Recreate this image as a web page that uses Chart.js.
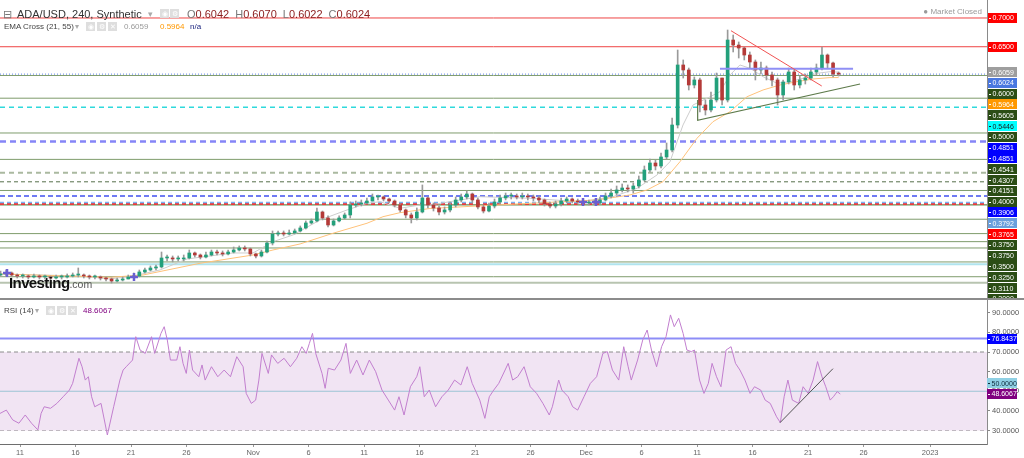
<!DOCTYPE html>
<html>
<head>
<meta charset="utf-8">
<script src="https://cdn.jsdelivr.net/npm/chart.js@4.4.0/dist/chart.umd.min.js"></script>
<style>
  html, body { margin: 0; padding: 0; background: #fff; }
  #wrap { position: relative; width: 1024px; height: 458px; overflow: hidden; font-family: "Liberation Sans", Arial, sans-serif; }
  canvas { position: absolute; left: 0; }
  #priceCanvas { top: 0; }
  #rsiCanvas { top: 300px; }
  #sep { position: absolute; left: 0; top: 298px; width: 1024px; height: 2px; background: #8c8c8c; }
  .t { position: absolute; white-space: nowrap; }
  .ic { position: absolute; width: 9px; height: 9px; background: #dedede; color: #fff; font-size: 7px; line-height: 9px; text-align: center; }
</style>
</head>
<body>
<div id="wrap">
  <canvas id="priceCanvas" width="1024" height="298"></canvas>
  <canvas id="rsiCanvas" width="1024" height="158"></canvas>
  <div id="sep"></div>

  <div class="t" style="left:3px;top:7px;font-size:11px;line-height:14px;color:#777">⊟</div>
  <div class="t" style="left:17px;top:7px;font-size:11px;line-height:14px;color:#333">ADA/USD, 240, Synthetic</div>
  <div class="t" style="left:148px;top:7px;font-size:9px;line-height:14px;color:#aaa">▾</div>
  <div class="ic" style="left:160px;top:9px">◉</div>
  <div class="ic" style="left:170px;top:9px">⚙</div>
  <div class="t" id="ohlc" style="left:187px;top:7px;font-size:11px;line-height:14px"></div>

  <div class="t" style="left:4px;top:22px;font-size:8px;line-height:10px;color:#444">EMA Cross (21, 55)</div>
  <div class="t" style="left:75px;top:22px;font-size:8px;line-height:10px;color:#aaa">▾</div>
  <div class="ic" style="left:86px;top:22px">◉</div>
  <div class="ic" style="left:97px;top:22px">⚙</div>
  <div class="ic" style="left:108px;top:22px">✕</div>
  <div class="t" id="emaFastTxt" style="left:124px;top:22px;font-size:8px;line-height:10px;color:#9a9a9a"></div>
  <div class="t" id="emaSlowTxt" style="left:160px;top:22px;font-size:8px;line-height:10px;color:#ff9800"></div>
  <div class="t" style="left:190px;top:22px;font-size:8px;line-height:10px;color:#1a237e">n/a</div>

  <div class="t" style="right:42px;top:7px;font-size:8px;line-height:10px;color:#9a9a9a">● Market Closed</div>

  <div class="t" style="left:4px;top:306px;font-size:8px;line-height:10px;color:#444">RSI (14)</div>
  <div class="t" style="left:35px;top:306px;font-size:8px;line-height:10px;color:#aaa">▾</div>
  <div class="ic" style="left:46px;top:306px">◉</div>
  <div class="ic" style="left:57px;top:306px">⚙</div>
  <div class="ic" style="left:68px;top:306px">✕</div>
  <div class="t" id="rsiTxt" style="left:83px;top:306px;font-size:8px;line-height:10px;color:#800080"></div>

  <div class="t" style="left:9px;top:275px;font-weight:bold;font-size:15px;line-height:16px;letter-spacing:-0.6px;color:#111">Investing<span style="font-weight:normal;font-size:10.5px;letter-spacing:0;color:#555">.com</span></div>
</div>

<script>
// 4h chart shown as 12h candles, days counted from 1 Oct
const candleStartDay = 8.25;
const candleStepDays = 0.5;
const firstOpen = 0.2530;

const closes = [
  0.2548,0.2565,0.2530,0.2513,0.2513,0.2496,0.2513,0.2496,0.2496,0.2478,
  0.2496,0.2496,0.2513,0.2530,0.2530,0.2513,0.2496,0.2496,0.2478,0.2461,
  0.2426,0.2443,0.2461,0.2496,0.2513,0.2583,0.2617,0.2652,0.2670,0.2826,
  0.2826,0.2809,0.2809,0.2826,0.2913,0.2878,0.2843,0.2878,0.2930,0.2913,
  0.2896,0.2930,0.2965,0.3000,0.2983,0.2896,0.2861,0.2930,0.3087,0.3243,
  0.3261,0.3243,0.3261,0.3296,0.3348,0.3435,0.3470,0.3626,0.3522,0.3400,
  0.3470,0.3522,0.3574,0.3748,0.3765,0.3783,0.3817,0.3887,0.3887,0.3852,
  0.3817,0.3748,0.3661,0.3574,0.3522,0.3626,0.3870,0.3748,0.3696,0.3626,
  0.3661,0.3748,0.3835,0.3887,0.3939,0.3835,0.3713,0.3643,0.3730,0.3800,
  0.3870,0.3904,0.3904,0.3887,0.3904,0.3887,0.3870,0.3835,0.3765,0.3730,
  0.3765,0.3817,0.3852,0.3817,0.3800,0.3783,0.3800,0.3783,0.3835,0.3904,
  0.3956,0.4009,0.4043,0.4026,0.4078,0.4183,0.4357,0.4478,0.4426,0.4583,
  0.4704,0.5139,0.6183,0.6096,0.5835,0.5922,0.5487,0.5400,0.5574,0.5956,
  0.5574,0.6617,0.6530,0.6478,0.6356,0.6235,0.6096,0.6130,0.6009,0.5922,
  0.5661,0.5887,0.6061,0.5835,0.5922,0.5956,0.6061,0.6130,0.6356,0.6217,
  0.6026,0.6024
];
const highs = [
  0.2600,0.2617,0.2583,0.2548,0.2548,0.2530,0.2548,0.2530,0.2530,0.2513,
  0.2530,0.2530,0.2548,0.2565,0.2652,0.2548,0.2530,0.2530,0.2513,0.2496,
  0.2478,0.2478,0.2496,0.2530,0.2565,0.2617,0.2652,0.2687,0.2704,0.2930,
  0.2878,0.2861,0.2861,0.2878,0.2965,0.2930,0.2896,0.2930,0.2965,0.2965,
  0.2948,0.2965,0.3017,0.3035,0.3035,0.3000,0.2913,0.2965,0.3122,0.3296,
  0.3296,0.3296,0.3313,0.3330,0.3383,0.3470,0.3504,0.3696,0.3643,0.3557,
  0.3504,0.3557,0.3609,0.3800,0.3817,0.3835,0.3870,0.3939,0.3922,0.3904,
  0.3870,0.3835,0.3765,0.3678,0.3609,0.3696,0.4096,0.3887,0.3783,0.3730,
  0.3713,0.3800,0.3887,0.3939,0.3991,0.3956,0.3870,0.3748,0.3783,0.3852,
  0.3922,0.3956,0.3956,0.3939,0.3956,0.3939,0.3922,0.3904,0.3852,0.3800,
  0.3817,0.3870,0.3887,0.3870,0.3852,0.3835,0.3835,0.3835,0.3887,0.3956,
  0.4026,0.4078,0.4113,0.4096,0.4130,0.4252,0.4426,0.4548,0.4530,0.4652,
  0.4826,0.5261,0.6443,0.6270,0.6130,0.5974,0.5956,0.5574,0.5713,0.6043,
  0.5956,0.6791,0.6704,0.6583,0.6496,0.6409,0.6270,0.6235,0.6165,0.6061,
  0.5956,0.5922,0.6130,0.6096,0.5991,0.6026,0.6130,0.6200,0.6496,0.6374,
  0.6235,0.6061
];
const lows = [
  0.2513,0.2513,0.2496,0.2478,0.2478,0.2461,0.2478,0.2461,0.2461,0.2443,
  0.2461,0.2461,0.2478,0.2496,0.2496,0.2478,0.2461,0.2461,0.2443,0.2426,
  0.2391,0.2409,0.2426,0.2461,0.2478,0.2496,0.2565,0.2600,0.2617,0.2652,
  0.2774,0.2757,0.2774,0.2774,0.2809,0.2843,0.2809,0.2826,0.2861,0.2878,
  0.2861,0.2878,0.2913,0.2948,0.2948,0.2861,0.2826,0.2843,0.2913,0.3052,
  0.3209,0.3209,0.3226,0.3243,0.3278,0.3330,0.3417,0.3452,0.3487,0.3365,
  0.3383,0.3452,0.3504,0.3522,0.3713,0.3730,0.3765,0.3817,0.3835,0.3817,
  0.3783,0.3713,0.3626,0.3522,0.3435,0.3487,0.3609,0.3696,0.3643,0.3574,
  0.3591,0.3626,0.3713,0.3800,0.3852,0.3783,0.3678,0.3609,0.3626,0.3696,
  0.3765,0.3835,0.3852,0.3852,0.3852,0.3835,0.3817,0.3783,0.3730,0.3696,
  0.3696,0.3730,0.3783,0.3783,0.3765,0.3748,0.3748,0.3748,0.3765,0.3817,
  0.3870,0.3922,0.3974,0.3974,0.3956,0.4043,0.4165,0.4322,0.4357,0.4391,
  0.4548,0.4670,0.5087,0.5956,0.5748,0.5783,0.5365,0.5313,0.5365,0.5539,
  0.5487,0.5539,0.6409,0.6304,0.6270,0.6130,0.5922,0.6026,0.5922,0.5817,
  0.5487,0.5574,0.5852,0.5748,0.5783,0.5852,0.5922,0.6009,0.6096,0.6130,
  0.5974,0.5991
];

// EMA Cross (21, 55)
const emaFastDays = [8.20,15.41,18.11,20.18,22.61,25.05,29.19,30.99,32.79,34.59,37.03,39.46,41.26,42.43,44.23,46.04,46.94,51.44,55.95,60.45,63.42,65.59,67.39,68.56,69.73,70.63,71.89,73.06,73.96,74.86,75.77,76.94,78.20,79.37,80.54,81.80,82.97,83.75];
const emaFastVals = [0.2548,0.2513,0.2461,0.2513,0.2617,0.2809,0.2913,0.2913,0.3109,0.3226,0.3487,0.3661,0.3777,0.3805,0.3690,0.3748,0.3748,0.3892,0.3864,0.3805,0.3892,0.4038,0.4270,0.4501,0.5139,0.5487,0.5603,0.5718,0.6009,0.6183,0.6125,0.5979,0.5864,0.5892,0.5951,0.6038,0.6066,0.6059];
const emaSlowDays = [8.20,18.11,21.08,26.22,30.99,32.79,35.23,38.20,41.26,42.70,44.23,46.94,52.97,58.92,61.98,64.95,66.49,67.93,69.46,70.99,72.43,73.96,75.50,76.94,78.47,80.00,81.44,82.97,83.75];
const emaSlowVals = [0.2548,0.2490,0.2530,0.2734,0.2878,0.2965,0.3070,0.3256,0.3430,0.3544,0.3614,0.3687,0.3748,0.3805,0.3835,0.3922,0.4009,0.4153,0.4501,0.4908,0.5196,0.5370,0.5631,0.5748,0.5835,0.5892,0.5939,0.5963,0.5964];

// horizontal levels drawn on the price panel
const levelPrices = [0.7000,0.6500,0.6000,0.5605,0.5446,0.5000,0.4851,0.4851,0.4541,0.4307,0.4151,0.4000,0.3906,0.3792,0.3765,0.3750,0.3750,0.3500,0.3250,0.3110,0.3000,0.2757,0.2717,0.2500,0.2396];
const levelKinds = ['red','red','green','green','cyan','green','blueDash','blueDash','green','greenDashLight','greenDash','green','blueDash2','lightBlueDash','redDash','green','green','green','green','green','green','green','lightCyan','green','greyThick'];

// trend drawings
const redTrendDays = [74.05, 82.23];
const redTrendVals = [0.6779, 0.5817];
const supportDays = [71.05, 71.05, 85.68];
const supportVals = [0.5574, 0.5221, 0.5852];
const rangeDays = [73.06, 85.05];
const rangeVals = [0.6116, 0.6116];
const markerDays = [8.83, 20.27, 60.72, 61.89];
const markerVals = [0.2565, 0.2496, 0.3800, 0.3800];

// RSI (14)
const rsiDays = [
  8.20,8.77,9.34,9.90,10.47,11.04,11.61,11.90,12.18,12.75,
  13.32,13.89,14.45,14.74,15.31,15.59,15.88,16.16,16.45,16.73,
  17.30,17.87,18.44,18.72,19.00,19.29,19.57,20.14,20.43,20.82,
  21.28,21.85,22.13,22.70,22.99,23.27,23.55,24.12,24.41,24.69,
  24.98,25.26,25.55,26.11,26.40,26.68,27.25,27.82,28.39,28.96,
  29.53,30.10,30.38,30.84,31.23,31.52,31.80,32.37,32.66,33.22,
  33.79,34.36,34.93,35.39,35.78,36.07,36.35,36.64,37.21,37.49,
  37.77,38.34,38.91,39.37,39.76,40.33,40.90,41.47,42.04,42.61,
  43.18,43.75,44.14,44.60,45.17,45.74,46.02,46.42,46.87,47.44,
  48.01,48.58,49.15,49.72,50.29,50.74,51.42,51.88,52.28,52.68,
  53.13,53.70,53.98,54.38,54.84,55.41,55.97,56.54,57.11,57.68,
  57.96,58.53,58.82,59.39,59.79,60.24,60.81,61.38,61.95,62.51,
  62.91,63.37,63.94,64.39,64.79,65.07,65.64,66.10,66.50,66.89,
  67.35,67.80,68.20,68.60,68.94,69.34,69.74,70.08,70.48,70.76,
  71.22,71.62,72.01,72.35,72.75,73.15,73.61,74.06,74.46,74.86,
  75.31,75.77,76.17,76.73,77.13,77.59,78.16,78.50,78.84,79.18,
  79.58,80.15,80.55,81.00,81.45,81.85,82.25,82.59,82.99,83.28,
  83.62,83.90
];
const rsiVals = [
  38.7,40.4,35.4,33.7,37.9,33.7,30.3,38.7,42.1,41.3,
  43.8,47.2,50.6,54.0,66.8,62.5,55.7,57.4,47.2,42.1,
  43.8,27.7,42.1,48.9,55.7,60.8,62.5,65.9,77.8,71.0,
  69.3,77.8,69.3,79.5,82.9,76.1,65.9,65.9,72.7,64.2,
  59.1,71.0,60.8,57.4,63.4,55.7,62.5,57.4,60.8,57.4,
  67.6,62.5,48.9,43.8,45.5,55.7,69.3,59.1,68.5,64.2,
  66.8,62.5,66.8,72.7,69.3,74.4,79.5,69.3,59.1,51.5,
  61.7,60.8,65.9,74.4,59.1,65.9,58.3,65.9,60.0,50.6,
  45.5,40.4,47.2,37.9,52.3,57.4,62.5,47.2,50.6,42.1,
  47.2,50.6,55.7,53.2,62.5,54.0,45.5,36.2,47.2,50.6,
  54.0,60.8,64.2,55.7,57.4,62.5,52.3,48.9,43.8,37.9,
  42.1,55.7,50.6,47.2,42.1,40.4,47.2,54.0,57.4,69.3,
  70.2,60.8,55.7,72.7,62.5,55.7,65.9,76.1,81.2,71.0,
  62.5,72.7,77.8,88.9,82.9,87.2,79.5,71.0,70.2,71.0,
  55.7,48.9,54.0,64.2,57.4,52.3,71.0,72.7,64.2,60.8,
  55.7,48.9,52.3,50.6,45.5,43.8,37.0,34.0,47.2,55.7,
  45.5,43.8,52.3,48.9,55.7,65.1,57.4,52.3,45.5,47.2,
  49.8,48.6067
];
const rsiTrendDays = [78.47, 83.24];
const rsiTrendVals = [34.0, 61.5];
const rsiBandHigh = 70, rsiBandLow = 30, rsiMid = 50, rsiMark = 76.8437;
const rsiTickValues = [30, 40, 50, 60, 70, 80, 90];

const tickDays = [10, 15, 20, 25, 31, 36, 41, 46, 51, 56, 61, 66, 71, 76, 81, 86, 92];
const tickLabels = ['11', '16', '21', '26', 'Nov', '6', '11', '16', '21', '26', 'Dec', '6', '11', '16', '21', '26', '2023'];

const quoteKeys = ['O', 'H', 'L', 'C'];
const lastQuote = [0.6042, 0.6070, 0.6022, 0.6024];

// view window
const viewDayMin = 8.198, viewDayMax = 97.117;
const priceMin = 0.2130, priceMax = 0.7313;
const rsiMin = 23.12, rsiMax = 96.5;

const levelStyle = {
  red:            { line: '#ef4444', width: 1,   dash: [],     box: '#ff0000', text: '#fff' },
  green:          { line: '#7f9c6c', width: 1,   dash: [],     box: '#2b4d15', text: '#fff' },
  cyan:           { line: '#2fd9dc', width: 1.5, dash: [5, 4], box: '#00ffff', text: '#1a1a1a' },
  blueDash:       { line: '#8585f7', width: 2,   dash: [6, 4], box: '#0000ff', text: '#fff' },
  greenDashLight: { line: '#aab9a0', width: 2,   dash: [5, 4], box: '#2b4d15', text: '#fff' },
  greenDash:      { line: '#56704a', width: 1,   dash: [4, 3], box: '#2b4d15', text: '#fff' },
  blueDash2:      { line: '#4050f0', width: 1.5, dash: [5, 3], box: '#0000ff', text: '#fff' },
  lightBlueDash:  { line: '#7ab0f0', width: 1.5, dash: [4, 3], box: '#6a9fdc', text: '#fff' },
  redDash:        { line: '#ee3a3a', width: 2,   dash: [4, 3], box: '#ff0000', text: '#fff' },
  lightCyan:      { line: '#b0e4ee', width: 2,   dash: [],     box: '#2b4d15', text: '#fff' },
  greyThick:      { line: '#b8c4b0', width: 2,   dash: [],     box: '#2b4d15', text: '#fff' }
};
const upColor = '#23a07b', downColor = '#b43a38', wickColor = '#9a9a9a';
const emaFastColor = '#cdcdcd', emaSlowColor = '#ffc27a';
const priceLineColor = '#5d80e8', priceBox = '#4a78e0';

Chart.defaults.font.family = '"Liberation Sans", Arial, sans-serif';
Chart.defaults.animation = false;

const toXY = (xs, ys) => xs.map((x, i) => ({ x, y: ys[i] }));
const candleDays = closes.map((_, i) => candleStartDay + i * candleStepDays);
const opens = closes.map((c, i) => (i === 0 ? firstOpen : closes[i - 1]));
const bodyColors = closes.map((c, i) => (c >= opens[i] ? upColor : downColor));

const lineSet = (data, color, width, extra) => Object.assign({
  type: 'line', data, borderColor: color, borderWidth: width,
  pointRadius: 0, tension: 0, fill: false
}, extra || {});

// header texts from data
document.getElementById('ohlc').innerHTML = quoteKeys.map((k, i) =>
  `<span style="color:#777">${k}</span><span style="color:#8b1c1c;margin-right:6px">${lastQuote[i].toFixed(4)}</span>`).join('');
document.getElementById('emaFastTxt').textContent = emaFastVals[emaFastVals.length - 1].toFixed(4);
document.getElementById('emaSlowTxt').textContent = emaSlowVals[emaSlowVals.length - 1].toFixed(4);
document.getElementById('rsiTxt').textContent = rsiVals[rsiVals.length - 1].toFixed(4);

function drawTag(ctx, x, y, w, h, bg, fg, text) {
  ctx.fillStyle = bg;
  ctx.fillRect(x, Math.round(y - h / 2), w, h);
  ctx.strokeStyle = fg;
  ctx.lineWidth = 1;
  ctx.beginPath();
  ctx.moveTo(x + 1, Math.round(y) + 0.5);
  ctx.lineTo(x + 3, Math.round(y) + 0.5);
  ctx.stroke();
  ctx.fillStyle = fg;
  ctx.fillText(text, x + 4.5, y + 0.5);
}

// price-axis tags, pushed down so they do not overlap
const priceTags = {
  id: 'priceTags',
  afterDraw(chart) {
    const { ctx, chartArea } = chart;
    const ys = chart.scales.y;
    const tags = levelPrices.map((v, i) => ({ v, bg: levelStyle[levelKinds[i]].box, fg: levelStyle[levelKinds[i]].text }));
    tags.push({ v: emaFastVals[emaFastVals.length - 1], bg: '#9e9e9e', fg: '#fff' });
    tags.push({ v: emaSlowVals[emaSlowVals.length - 1], bg: '#ff9800', fg: '#fff' });
    tags.push({ v: closes[closes.length - 1], bg: priceBox, fg: '#fff' });
    tags.sort((a, b) => b.v - a.v);
    ctx.save();
    ctx.font = '7px "Liberation Sans", Arial, sans-serif';
    ctx.textBaseline = 'middle';
    let prev = -Infinity;
    tags.forEach(t => {
      const y = Math.max(ys.getPixelForValue(t.v), prev + 10.8);
      prev = y;
      drawTag(ctx, chartArea.right + 1, y, 29, 10, t.bg, t.fg, t.v.toFixed(4));
    });
    ctx.restore();
  }
};

// rsi-axis tags, pushed up so they do not overlap
const rsiTags = {
  id: 'rsiTags',
  afterDraw(chart) {
    const { ctx, chartArea } = chart;
    const ys = chart.scales.y;
    const tags = [
      { v: rsiVals[rsiVals.length - 1], bg: '#800080', fg: '#fff' },
      { v: rsiMid, bg: '#8fd0e4', fg: '#0d2a3a' },
      { v: rsiMark, bg: '#0000ff', fg: '#fff' }
    ];
    ctx.save();
    ctx.font = '7px "Liberation Sans", Arial, sans-serif';
    ctx.textBaseline = 'middle';
    let prev = Infinity;
    tags.forEach(t => {
      const y = Math.min(ys.getPixelForValue(t.v), prev - 10.5);
      prev = y;
      drawTag(ctx, chartArea.right, y, 30, 10, t.bg, t.fg, t.v.toFixed(4));
    });
    ctx.restore();
  }
};

const levelSets = levelPrices.map((p, i) => {
  const s = levelStyle[levelKinds[i]];
  return lineSet(toXY([viewDayMin, viewDayMax], [p, p]), s.line, s.width, { borderDash: s.dash, order: 8 });
});

new Chart(document.getElementById('priceCanvas'), {
  type: 'bar',
  data: {
    datasets: [
      ...levelSets,
      lineSet(toXY([viewDayMin, viewDayMax], [closes[closes.length - 1], closes[closes.length - 1]]), priceLineColor, 1, { borderDash: [1, 2], order: 7 }),
      lineSet(toXY(emaSlowDays, emaSlowVals), emaSlowColor, 1, { order: 5 }),
      lineSet(toXY(emaFastDays, emaFastVals), emaFastColor, 1, { order: 5 }),
      {
        type: 'bar', order: 4, grouped: false, barThickness: 1,
        data: candleDays.map((d, i) => ({ x: d, y: [lows[i], highs[i]] })),
        backgroundColor: wickColor
      },
      {
        type: 'bar', order: 3, grouped: false, barThickness: 3, minBarLength: 1,
        data: candleDays.map((d, i) => ({ x: d, y: [opens[i], closes[i]] })),
        backgroundColor: bodyColors
      },
      lineSet(toXY(rangeDays, rangeVals), '#8f8ff5', 2, { order: 2 }),
      lineSet(toXY(redTrendDays, redTrendVals), '#f05252', 1, { order: 1 }),
      lineSet(toXY(supportDays, supportVals), '#5d7a4a', 1.2, { order: 1 }),
      {
        type: 'line', order: 0, showLine: false,
        data: toXY(markerDays, markerVals),
        pointStyle: 'cross', pointRadius: 4, pointBorderWidth: 2.5,
        pointBorderColor: '#6a5fd0', pointBackgroundColor: '#6a5fd0'
      }
    ]
  },
  options: {
    responsive: false,
    devicePixelRatio: 1,
    layout: { padding: 0, autoPadding: false },
    plugins: { legend: { display: false }, tooltip: { enabled: false } },
    scales: {
      x: { type: 'linear', min: viewDayMin, max: viewDayMax, offset: false, display: false },
      y: {
        type: 'linear', position: 'right', min: priceMin, max: priceMax,
        afterFit(scale) { scale.width = 37; scale.paddingTop = 0; scale.paddingBottom = 0; },
        ticks: { display: false },
        grid: { display: false },
        border: { display: true, color: '#8a8a8a' }
      }
    }
  },
  plugins: [priceTags]
});

new Chart(document.getElementById('rsiCanvas'), {
  type: 'line',
  data: {
    datasets: [
      lineSet(toXY([viewDayMin, viewDayMax], [rsiBandHigh, rsiBandHigh]), '#8c8c8c', 1, { borderDash: [4, 3], fill: '+1', backgroundColor: '#f1e4f3', order: 6 }),
      lineSet(toXY([viewDayMin, viewDayMax], [rsiBandLow, rsiBandLow]), '#8c8c8c', 1, { borderDash: [4, 3], order: 6 }),
      lineSet(toXY([viewDayMin, viewDayMax], [rsiMark, rsiMark]), '#8d8df7', 2, { order: 5 }),
      lineSet(toXY([viewDayMin, viewDayMax], [rsiMid, rsiMid]), '#9cc3d5', 1, { order: 5 }),
      lineSet(toXY(rsiDays, rsiVals), '#c27fcf', 1, { order: 2 }),
      lineSet(toXY(rsiTrendDays, rsiTrendVals), '#555555', 1, { order: 1 })
    ]
  },
  options: {
    responsive: false,
    devicePixelRatio: 1,
    layout: { padding: 0, autoPadding: false },
    plugins: { legend: { display: false }, tooltip: { enabled: false } },
    scales: {
      x: {
        type: 'linear', min: viewDayMin, max: viewDayMax, offset: false,
        afterFit(scale) { scale.height = 14; scale.paddingLeft = 0; scale.paddingRight = 0; },
        afterBuildTicks(scale) { scale.ticks = tickDays.map(v => ({ value: v })); },
        ticks: {
          autoSkip: false, maxRotation: 0, minRotation: 0, padding: 1,
          color: '#666', font: { size: 7.5 },
          callback: (v, i) => tickLabels[i]
        },
        grid: { drawOnChartArea: false, drawTicks: true, tickLength: 3, color: '#999' },
        border: { display: true, color: '#6e6e6e' }
      },
      y: {
        type: 'linear', position: 'right', min: rsiMin, max: rsiMax,
        afterFit(scale) { scale.width = 37; scale.paddingTop = 0; scale.paddingBottom = 0; },
        afterBuildTicks(scale) { scale.ticks = rsiTickValues.map(v => ({ value: v })); },
        ticks: { color: '#555', font: { size: 7.5 }, padding: 2, callback: v => Number(v).toFixed(4) },
        grid: { drawOnChartArea: false, drawTicks: true, tickLength: 3, color: '#888' },
        border: { display: true, color: '#8a8a8a' }
      }
    }
  },
  plugins: [rsiTags]
});
</script>
</body>
</html>
